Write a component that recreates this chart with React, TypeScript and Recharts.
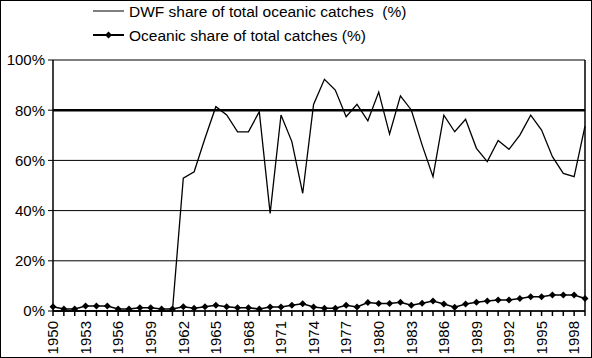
import {
  CartesianGrid,
  Legend,
  Line,
  LineChart,
  ReferenceLine,
  XAxis,
  YAxis,
} from "recharts";

const years = [
  "1950", "1951", "1952", "1953", "1954", "1955", "1956", "1957", "1958", "1959",
  "1960", "1961", "1962", "1963", "1964", "1965", "1966", "1967", "1968", "1969",
  "1970", "1971", "1972", "1973", "1974", "1975", "1976", "1977", "1978", "1979",
  "1980", "1981", "1982", "1983", "1984", "1985", "1986", "1987", "1988", "1989",
  "1990", "1991", "1992", "1993", "1994", "1995", "1996", "1997", "1998", "1999",
];

// DWF share of total oceanic catches (%)
const dwfShare = [
  0, 0, 0, 0, 0, 0, 0, 0, 0, 0,
  0, 0, 52.9, 55.5, 68.8, 81.4, 78.1, 71.4, 71.4, 79.4,
  38.9, 78.1, 67.5, 46.9, 82.3, 92.3, 88.0, 77.4, 82.3, 75.8,
  87.2, 70.5, 85.7, 80.1, 66.1, 53.5, 78.0, 71.4, 76.4, 64.8,
  59.5, 67.9, 64.4, 70.1, 78.0, 72.1, 61.5, 54.8, 53.5, 73.7,
];

// Oceanic share of total catches (%)
const oceanicShare = [
  1.7, 0.8, 0.8, 2.0, 2.0, 2.0, 0.8, 0.8, 1.3, 1.3,
  0.8, 0.8, 1.7, 1.1, 1.7, 2.3, 1.7, 1.3, 1.3, 0.8,
  1.6, 1.6, 2.3, 2.9, 1.6, 1.1, 1.1, 2.3, 1.6, 3.4,
  3.0, 3.0, 3.5, 2.3, 3.1, 4.0, 2.8, 1.5, 2.8, 3.5,
  4.0, 4.4, 4.4, 5.0, 5.7, 5.7, 6.4, 6.4, 6.4, 5.0,
];

const yTicks = [0, 20, 40, 60, 80, 100];

const data = years.map((year, i) => ({
  year,
  dwf: dwfShare[i],
  oceanic: oceanicShare[i],
}));

const FONT = '"Liberation Sans", Arial, sans-serif';

const diamond = (cx: number, cy: number, r: number) =>
  `${cx},${cy - r} ${cx + r},${cy} ${cx},${cy + r} ${cx - r},${cy}`;

const DiamondDot = (props: any) => {
  const { cx, cy, index } = props;
  if (cx == null || cy == null) return null;
  return <polygon key={`d-${index}`} points={diamond(cx, cy, 3.5)} fill="#000" />;
};

const XTick = (props: any) => {
  const { x, y, payload, index } = props;
  if (index % 3 !== 0) return null;
  const ty = y + 3;
  return (
    <text
      x={x}
      y={ty}
      transform={`rotate(-90 ${x} ${ty})`}
      textAnchor="end"
      dy="0.35em"
      fill="#000"
      fontSize={15}
      fontFamily={FONT}
    >
      {payload.value}
    </text>
  );
};

// legend drawn in page coordinates (wrapper sits at top 0)
const renderLegend = () => (
  <svg width={592} height={50} style={{ display: "block" }}>
    <line x1={93} y1={11} x2={124} y2={11} stroke="#000" strokeWidth={1} />
    <text x={129} y={17} fontSize={15.5} fontFamily={FONT} fill="#000">
      {"DWF share of total oceanic catches\u00a0\u00a0(%)"}
    </text>
    <line x1={93} y1={35} x2={124} y2={35} stroke="#000" strokeWidth={2} />
    <polygon points={diamond(108.5, 35, 3.5)} fill="#000" />
    <text x={129} y={41} fontSize={15.5} fontFamily={FONT} fill="#000">
      Oceanic share of total catches (%)
    </text>
  </svg>
);

export default function App() {
  return (
    <div
      style={{
        position: "absolute",
        left: 0,
        top: 0,
        width: 592,
        height: 358,
        background: "#fff",
        fontFamily: FONT,
      }}
    >
      <LineChart
        width={592}
        height={358}
        data={data}
        margin={{ top: 10, right: 7, left: 0, bottom: 0 }}
      >
        <CartesianGrid vertical={false} stroke="#000" strokeWidth={1} />
        <XAxis
          dataKey="year"
          interval={0}
          height={47}
          tickSize={5}
          tick={<XTick />}
          axisLine={{ stroke: "#000", strokeWidth: 1.5 }}
          tickLine={{ stroke: "#000", strokeWidth: 1.5 }}
        />
        <YAxis
          domain={[0, 100]}
          ticks={yTicks}
          width={53}
          tickSize={5}
          tickMargin={3}
          tickFormatter={(v) => `${v}%`}
          tick={{ fill: "#000", fontSize: 15, fontFamily: FONT }}
          axisLine={{ stroke: "#000", strokeWidth: 1.5 }}
          tickLine={{ stroke: "#000" }}
        />
        <ReferenceLine y={80} stroke="#000" strokeWidth={2.5} />
        <ReferenceLine x="1999" stroke="#000" strokeWidth={1.5} />
        <Legend verticalAlign="top" align="left" content={renderLegend} wrapperStyle={{ top: 0, left: 0 }} />
        <Line
          dataKey="dwf"
          stroke="#000"
          strokeWidth={1.3}
          dot={false}
          activeDot={false}
          isAnimationActive={false}
        />
        <Line
          dataKey="oceanic"
          stroke="#000"
          strokeWidth={1.6}
          dot={<DiamondDot />}
          activeDot={false}
          isAnimationActive={false}
        />
      </LineChart>
      <div
        style={{
          position: "absolute",
          left: 0,
          top: 0,
          width: 592,
          height: 358,
          boxSizing: "border-box",
          border: "1px solid #000",
          pointerEvents: "none",
        }}
      />
    </div>
  );
}
